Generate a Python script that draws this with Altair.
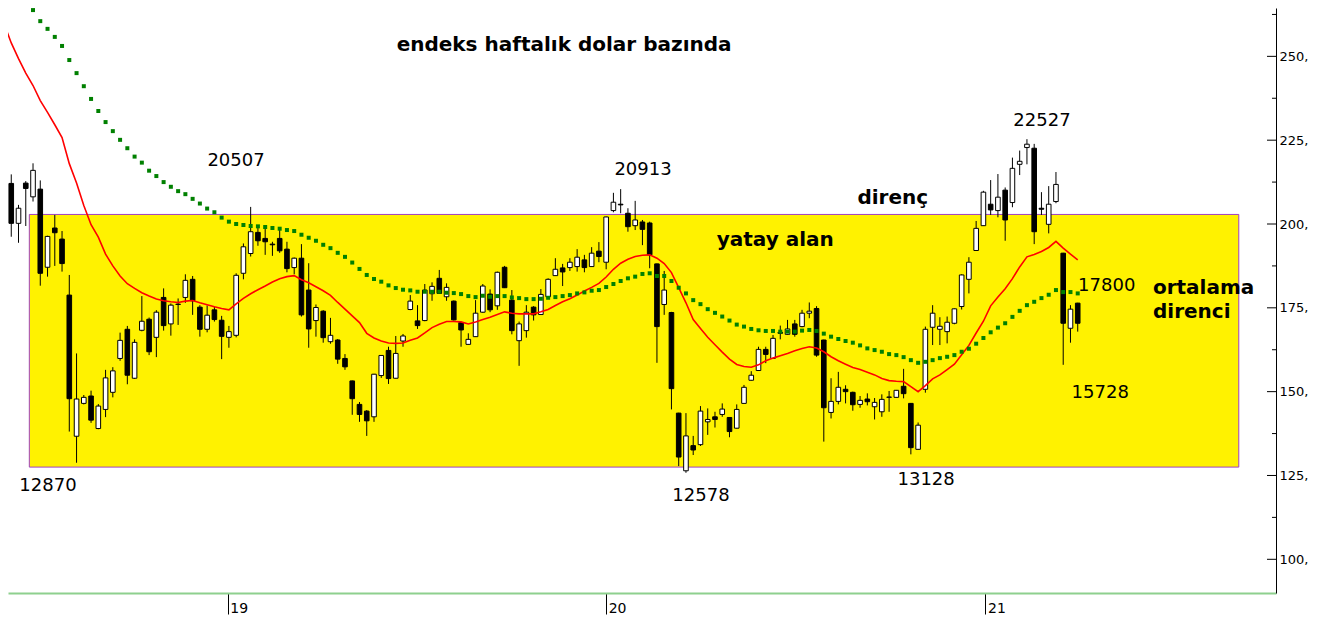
import altair as alt
import pandas as pd
import numpy as np

# ---------------- data ----------------
# weekly candles, first week = 2018-05-30
first_week = "2018-05-30"

opens = [216.3, 212.1, 200.2, 212.2, 208.1, 210.4, 187.1, 198.8, 195.5, 178.8,
         136.7, 146.5, 148.7, 139.0, 144.7, 149.8, 159.9, 168.6, 154.0, 168.3,
         171.6, 166.2, 178.1, 170.2, 176.1, 178.1, 183.5, 175.2, 168.6, 174.4,
         171.3, 166.2, 166.8, 185.3, 191.2, 197.5, 195.7, 194.0, 195.7, 192.5,
         187.0, 189.8, 180.3, 171.2, 174.0, 164.9, 165.4, 159.9, 153.2, 146.2,
         144.2, 142.5, 154.8, 162.3, 154.0, 165.1, 174.5, 171.1, 171.2, 179.2,
         183.8, 178.3, 177.0, 170.6, 164.1, 166.4, 173.7, 179.1, 175.6, 187.1,
         177.3, 165.2, 168.2, 175.2, 173.0, 178.3, 184.6, 186.9, 187.0, 187.3,
         189.3, 187.3, 191.9, 188.6, 204.0, 205.9, 203.2, 199.5, 200.6, 200.3,
         188.1, 176.0, 173.6, 143.6, 126.4, 133.9, 134.2, 141.0, 142.5, 143.2,
         142.3, 139.1, 146.5, 153.4, 156.3, 162.6, 159.9, 167.7, 167.1, 170.2,
         169.4, 173.4, 174.8, 165.4, 143.8, 147.1, 150.7, 149.8, 146.2, 147.8,
         145.5, 144.0, 148.3, 148.3, 151.6, 146.5, 132.8, 150.7, 169.2, 168.6,
         167.9, 170.4, 175.4, 183.5, 192.1, 199.5, 205.9, 204.0, 210.1, 206.4,
         217.8, 222.8, 222.6, 204.7, 199.9, 206.7, 191.3, 168.9, 176.4]
highs = [219.9, 214.8, 205.7, 212.8, 218.1, 213.0, 196.5, 202.7, 197.9, 184.8,
         161.4, 149.0, 150.3, 146.3, 156.5, 157.3, 167.6, 169.6, 165.6, 178.5,
         172.1, 174.3, 180.8, 176.3, 177.8, 185.0, 184.5, 175.8, 175.7, 175.3,
         172.6, 169.6, 185.3, 194.2, 205.1, 199.2, 199.7, 194.7, 198.2, 194.7,
         190.0, 194.0, 188.3, 176.0, 174.3, 172.0, 165.7, 161.2, 153.3, 146.9,
         144.5, 155.3, 160.9, 163.4, 166.6, 167.2, 178.8, 175.8, 182.1, 182.6,
         186.3, 182.3, 177.2, 170.8, 167.4, 177.3, 182.1, 180.5, 185.8, 187.5,
         180.3, 170.9, 175.8, 175.5, 180.6, 183.8, 189.8, 188.1, 189.8, 192.5,
         190.8, 193.1, 194.6, 202.2, 209.3, 210.4, 204.7, 206.9, 201.2, 200.7,
         188.2, 186.0, 173.8, 143.7, 143.6, 136.8, 145.7, 145.0, 144.0, 146.5,
         142.4, 146.2, 152.0, 156.1, 163.4, 163.4, 166.9, 169.7, 171.4, 171.4,
         174.4, 176.6, 175.5, 165.5, 154.0, 155.9, 151.9, 150.0, 148.7, 149.5,
         148.1, 149.2, 150.2, 150.5, 156.8, 146.6, 140.8, 169.4, 175.8, 172.2,
         172.4, 174.8, 185.0, 190.1, 200.9, 209.9, 213.1, 214.9, 210.9, 219.8,
         221.9, 225.3, 223.9, 209.5, 211.3, 215.5, 191.4, 175.8, 176.5]
lows = [208.6, 196.2, 194.4, 199.4, 206.7, 181.6, 184.3, 187.5, 185.8, 138.1,
        128.8, 146.2, 140.7, 138.8, 142.4, 148.3, 159.2, 152.2, 153.8, 168.0,
        160.9, 160.3, 168.2, 166.7, 169.9, 176.5, 172.9, 166.4, 167.7, 170.9,
        159.7, 163.1, 166.2, 183.5, 190.3, 193.5, 190.8, 190.5, 191.4, 185.6,
        185.0, 172.4, 163.1, 166.4, 164.6, 164.3, 158.3, 156.5, 143.1, 141.0,
        136.8, 141.0, 154.1, 152.3, 153.9, 163.4, 174.3, 168.7, 171.0, 177.1,
        179.2, 177.1, 171.2, 163.4, 164.0, 166.3, 173.5, 173.7, 174.4, 180.9,
        167.1, 157.7, 166.1, 171.2, 172.9, 178.2, 184.5, 181.5, 186.0, 185.8,
        185.6, 187.2, 188.6, 186.5, 203.5, 203.2, 197.7, 198.2, 193.7, 186.8,
        158.6, 172.9, 144.7, 127.8, 125.8, 131.1, 133.8, 137.1, 139.3, 142.5,
        136.4, 139.0, 146.4, 153.3, 156.2, 158.5, 159.8, 165.6, 167.0, 166.4,
        169.2, 171.9, 160.4, 135.1, 142.0, 146.2, 146.5, 144.3, 145.2, 145.9,
        141.7, 142.5, 144.0, 148.2, 148.0, 131.3, 132.7, 149.7, 163.9, 163.9,
        164.4, 170.1, 174.5, 179.3, 192.0, 199.4, 202.7, 202.0, 195.0, 205.0,
        214.6, 217.8, 194.0, 202.7, 197.2, 206.2, 158.0, 164.6, 167.9]
closes = [214.4, 200.2, 204.7, 210.6, 216.0, 185.3, 196.3, 197.4, 188.2, 147.9,
          147.8, 148.3, 141.5, 145.7, 154.1, 156.2, 165.3, 154.9, 164.7, 171.0,
          161.9, 173.7, 169.7, 175.8, 176.0, 183.2, 177.1, 168.6, 172.8, 171.5,
          166.5, 167.9, 184.7, 193.2, 197.7, 195.0, 194.7, 193.8, 192.0, 186.7,
          189.8, 172.9, 168.7, 175.1, 166.1, 166.8, 159.7, 157.4, 147.9, 143.2,
          141.3, 155.2, 160.8, 153.9, 161.4, 166.6, 177.0, 169.7, 180.3, 181.4,
          179.3, 181.1, 171.4, 168.4, 165.6, 173.4, 181.5, 174.4, 185.6, 181.0,
          168.2, 170.2, 173.7, 172.9, 179.0, 183.5, 186.5, 185.7, 188.6, 190.1,
          187.0, 191.3, 190.3, 202.1, 206.5, 205.7, 199.2, 201.2, 198.4, 190.8,
          169.4, 180.3, 150.9, 130.5, 136.8, 132.6, 144.2, 141.7, 141.7, 144.8,
          138.1, 144.7, 151.3, 154.9, 162.6, 161.1, 165.9, 167.4, 168.7, 167.1,
          173.4, 174.0, 160.9, 145.2, 147.1, 151.3, 150.0, 146.1, 147.4, 147.0,
          146.8, 147.7, 148.4, 150.4, 149.4, 133.3, 140.0, 168.6, 173.4, 169.5,
          170.7, 174.7, 184.8, 188.6, 198.7, 209.5, 204.2, 208.0, 201.2, 216.6,
          218.7, 223.8, 197.7, 204.4, 205.9, 211.8, 170.4, 174.6, 170.4]

# red moving average, one value per candle
red_ma = [259.7, 254.0, 249.3, 245.0, 241.3, 236.8, 233.3, 229.6, 225.8, 218.0,
          212.2, 205.5, 199.8, 196.1, 191.0, 187.5, 184.5, 182.2, 180.8, 179.5,
          178.5, 177.6, 177.1, 176.8, 176.6, 177.0, 177.2, 176.5, 175.9, 175.3,
          174.8, 174.4, 176.2, 177.8, 179.2, 180.4, 181.5, 182.7, 183.7, 184.3,
          184.6, 183.4, 182.5, 181.3, 180.1, 178.7, 176.6, 174.6, 172.6, 170.6,
          167.4, 166.0, 165.1, 164.5, 164.4, 164.5, 165.3, 166.0, 167.5, 169.1,
          170.1, 170.9, 170.9, 170.8, 170.2, 170.8, 171.5, 172.2, 173.0, 173.8,
          173.4, 173.2, 173.2, 173.2, 173.8, 174.5, 175.7, 176.8, 177.7, 178.8,
          180.0, 181.1, 182.3, 184.2, 186.5, 188.3, 189.5, 190.3, 190.7, 190.8,
          189.8, 188.2, 185.5, 181.0, 176.5, 171.5, 168.8, 166.2, 164.0, 161.8,
          159.7, 158.1, 157.5, 157.3, 158.0, 159.2, 160.0, 160.7, 161.4, 162.2,
          162.9, 163.4, 163.0, 161.9, 160.4, 159.2, 158.2, 157.2, 156.6, 155.8,
          155.0, 153.9, 153.3, 153.1, 153.0, 151.5, 150.0, 151.8, 153.8, 155.0,
          156.6, 158.2, 161.0, 163.8, 167.5, 171.0, 175.6, 178.2, 180.7, 183.7,
          187.2, 190.2, 190.9, 191.8, 193.0, 194.8, 192.8, 191.0, 189.3]

# green dotted moving average, one value per candle from week 3 on
green_start = 3
green_ma = [265.6, 263.8, 260.5, 258.2, 255.8, 253.1, 248.9, 245.0, 241.1, 237.3,
            233.7, 230.4, 227.7, 225.1, 222.6, 220.1, 218.3, 215.9, 214.3, 212.5,
            211.1, 209.8, 208.9, 207.5, 206.1, 204.6, 203.5, 201.9, 200.7, 200.0,
            199.7, 199.4, 199.3, 199.1, 198.8, 198.6, 198.2, 197.9, 196.8, 195.9,
            195.0, 193.8, 192.8, 191.4, 190.2, 188.5, 186.6, 184.8, 183.6, 182.8,
            181.7, 180.9, 180.4, 180.2, 179.8, 179.8, 179.8, 179.8, 179.5, 179.4,
            179.1, 178.5, 178.2, 178.6, 178.3, 178.5, 178.5, 178.1, 177.9, 177.6,
            177.6, 177.7, 178.0, 178.2, 178.5, 178.8, 179.3, 179.6, 180.1, 180.3,
            181.2, 182.1, 183.0, 183.8, 184.3, 185.1, 185.3, 184.5, 184.5, 183.0,
            181.0, 179.3, 177.3, 176.1, 174.6, 173.5, 172.4, 171.2, 170.0, 169.4,
            168.7, 168.3, 168.1, 168.1, 167.9, 167.9, 167.9, 168.2, 168.4, 168.1,
            167.3, 166.4, 165.7, 165.1, 164.6, 163.8, 162.9, 162.4, 161.9, 161.2,
            160.9, 160.3, 159.4, 158.6, 158.9, 159.4, 160.0, 160.4, 160.9, 161.9,
            162.8, 164.3, 166.0, 167.7, 169.1, 170.4, 172.3, 174.1, 175.8, 176.8,
            177.9, 178.9, 180.3, 179.7, 179.7, 179.3]

# horizontal band ("yatay alan")
band_weeks = [3.49, 170.2]
band_prices = [127.5, 202.85]

# annotations: text, week position, price position
bold_center_text = ["endeks haftalık dolar bazında", "direnç", "yatay alan"]
bold_center_week = [77.2, 122.5, 106.3]
bold_center_price = [253.3, 207.8, 195.2]

bold_left_text = ["ortalama", "direnci"]
bold_left_week = [158.37, 158.37]
bold_left_price = [180.9, 173.7]

num_text = ["20507", "20913", "22527", "17800", "15728", "12870", "12578", "13128"]
num_week = [31.98, 88.08, 143.07, 152.0, 151.1, 6.06, 96.07, 127.1]
num_price = [218.8, 216.1, 230.7, 181.5, 149.5, 121.8, 118.8, 123.6]

year_ticks = [2019, 2020, 2021]
y_major = [100, 125, 150, 175, 200, 225, 250]
y_minor = [112.5, 137.5, 162.5, 187.5, 212.5, 237.5, 262.5]

# ---------------- helpers ----------------
base = pd.Timestamp(first_week)


def wk(w):
    return (base + pd.Timedelta(days=7 * w)).strftime("%Y-%m-%dT%H:%M:%SZ")


def ms(w):
    return int((base + pd.Timedelta(days=7 * w)).value // 10**6)


W, H = 1268, 585
FONT = "DejaVu Sans"

n = len(opens)
candles = pd.DataFrame({
    "date": [wk(i) for i in range(n)],
    "open": opens, "high": highs, "low": lows, "close": closes,
})
candles["dir"] = np.where(candles["close"] >= candles["open"], "up", "down")

red_df = pd.DataFrame({"date": [wk(i) for i in range(len(red_ma))], "v": red_ma})
green_df = pd.DataFrame({"date": [wk(i + green_start) for i in range(len(green_ma))], "v": green_ma})
band_df = pd.DataFrame({"d1": [wk(band_weeks[0])], "d2": [wk(band_weeks[1])],
                        "p1": [band_prices[0]], "p2": [band_prices[1]]})
bc_df = pd.DataFrame({"t": bold_center_text, "date": [wk(w) for w in bold_center_week], "p": bold_center_price})
bl_df = pd.DataFrame({"t": bold_left_text, "date": [wk(w) for w in bold_left_week], "p": bold_left_price})
num_df = pd.DataFrame({"t": num_text, "date": [wk(w) for w in num_week], "p": num_price})
major_df = pd.DataFrame({"v": y_major})
minor_df = pd.DataFrame({"v": y_minor})

xs = alt.Scale(type="utc", domain=[ms(0.551), ms(175.33)], padding=0)
ys = alt.Scale(domain=[89.95, 264.42], nice=False, zero=False, padding=0)

x_axis = alt.Axis(
    values=[alt.DateTime(year=y, month=1, date=1, utc=True) for y in year_ticks],
    labelExpr="utcFormat(datum.value, '%y')",
    title=None, grid=False, tickSize=21, tickColor="black",
    labelAlign="left", labelBaseline="middle", labelPadding=-6, labelOffset=2,
    labelFont=FONT, labelFontSize=14, labelColor="black",
    domainColor="#8ED08E", domainWidth=2,
)
y_axis = alt.Axis(
    orient="right", values=y_major, labelExpr="format(datum.value, 'd') + ','",
    title=None, grid=False, ticks=False, domainColor="black", domainWidth=1,
    labelPadding=3, labelFont=FONT, labelFontSize=13, labelColor="black",
)

X = alt.X("date:T", scale=xs, axis=x_axis)

band = alt.Chart(band_df).mark_rect(fill="#FFF200", stroke="#A040C0", strokeWidth=1).encode(
    x=alt.X("d1:T", scale=xs, axis=x_axis), x2="d2:T",
    y=alt.Y("p1:Q", scale=ys, axis=y_axis), y2="p2:Q",
)

wicks = alt.Chart(candles).mark_rule(color="black", strokeWidth=1).encode(
    x=X, y=alt.Y("low:Q", scale=ys), y2="high:Q"
)
bodies = alt.Chart(candles).mark_bar(size=4.6, stroke="black", strokeWidth=1).encode(
    x=X, y=alt.Y("open:Q", scale=ys), y2="close:Q",
    color=alt.Color("dir:N", scale=alt.Scale(domain=["up", "down"], range=["white", "black"]), legend=None),
)

red_line = alt.Chart(red_df).mark_line(color="#FF0000", strokeWidth=1.6).encode(
    x=X, y=alt.Y("v:Q", scale=ys)
)
green_dots = alt.Chart(green_df).mark_square(color="#008000", size=16, opacity=1).encode(
    x=X, y=alt.Y("v:Q", scale=ys)
)

major_ticks = alt.Chart(major_df).mark_rule(color="black", strokeWidth=1).encode(
    y=alt.Y("v:Q", scale=ys), x=alt.value(W - 9), x2=alt.value(W)
)
minor_ticks = alt.Chart(minor_df).mark_rule(color="black", strokeWidth=1).encode(
    y=alt.Y("v:Q", scale=ys), x=alt.value(W - 4), x2=alt.value(W)
)

t_bc = alt.Chart(bc_df).mark_text(font=FONT, fontSize=20, fontWeight="bold", color="black",
                                  align="center", baseline="middle").encode(
    x=X, y=alt.Y("p:Q", scale=ys), text="t:N")
t_bl = alt.Chart(bl_df).mark_text(font=FONT, fontSize=20, fontWeight="bold", color="black",
                                  align="left", baseline="middle").encode(
    x=X, y=alt.Y("p:Q", scale=ys), text="t:N")
t_num = alt.Chart(num_df).mark_text(font=FONT, fontSize=18, color="black",
                                    align="center", baseline="middle").encode(
    x=X, y=alt.Y("p:Q", scale=ys), text="t:N")

chart = alt.layer(
    band, wicks, bodies, red_line, green_dots, major_ticks, minor_ticks, t_bc, t_bl, t_num
).properties(
    width=W, height=H,
    autosize=alt.AutoSizeParams(type="none"),
    padding={"left": 0, "top": 0, "right": 34, "bottom": 22},
    background="white",
).configure_view(stroke=None)

chart.save("out.html", embed_options={"renderer": "svg", "actions": False})
